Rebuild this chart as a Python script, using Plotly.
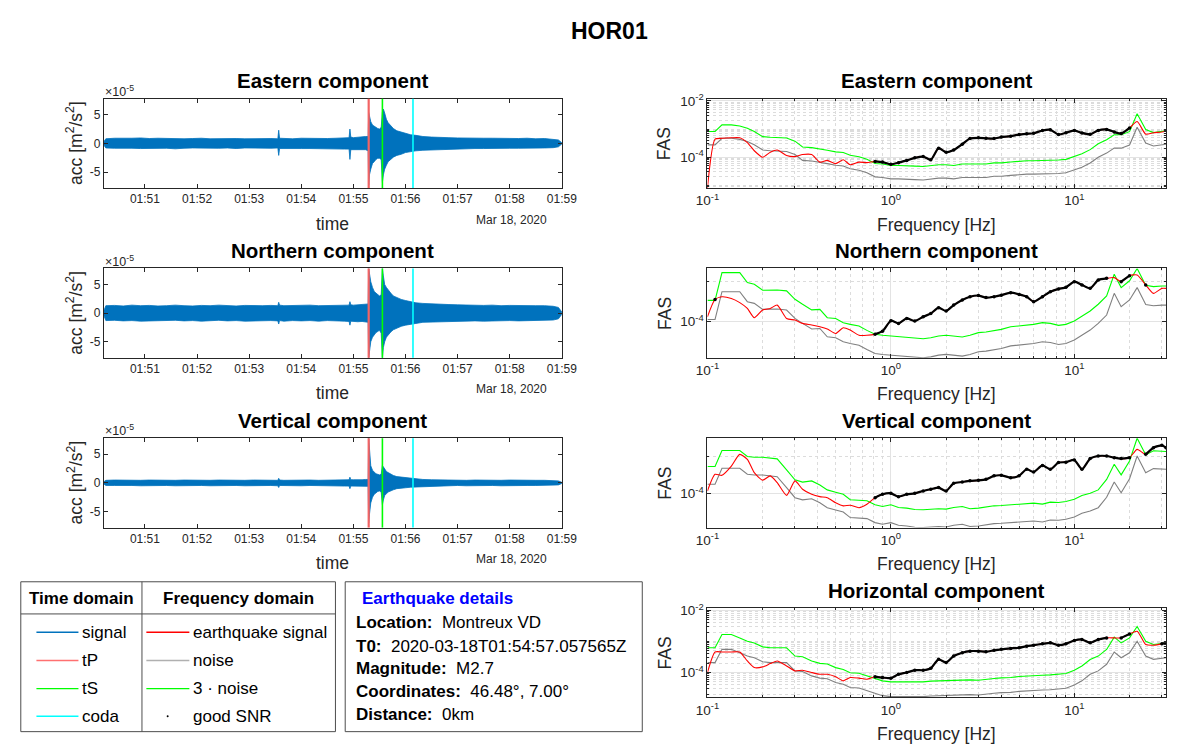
import math
import pandas as pd
import plotly.graph_objects as go

W, H = 1183, 746
FONT = "Liberation Sans, Arial, sans-serif"
INK = "#262626"

# ---------------- time-domain records (acc in 1e-5 m/s^2) ----------------
T0 = pd.Timestamp("2020-03-18 01:50:00")
wave_t = [12.7, 15, 25, 35, 45, 55, 65, 75, 85, 95,
          105, 115, 125, 135, 145, 155, 165, 175, 185, 195,
          205, 213, 214, 215, 220, 230, 240, 250, 260, 270,
          280, 290, 295, 296, 297, 300, 305, 310, 314, 317,
          317.6, 318.5, 320, 322, 324, 326, 328, 330, 332, 333.4,
          334.5, 336, 338, 340, 343, 346, 350, 355, 360, 366,
          372, 380, 390, 400, 410, 420, 430, 440, 450, 460,
          470, 480, 490, 500, 510, 520, 530, 536, 540]

east_hi = [0.3, 0.8, 0.9, 0.85, 0.9, 0.95, 0.85, 0.9, 0.85, 0.9,
           0.8, 0.85, 0.9, 0.8, 0.85, 0.8, 0.85, 0.8, 0.85, 0.8,
           0.85, 0.8, 2.3, 0.9, 0.85, 0.8, 0.9, 0.85, 0.9, 0.85,
           0.9, 1.0, 1.0, 2.5, 1.1, 1.0, 1.1, 1.1, 1.2, 1.2,
           5.4, 4.8, 3.8, 3.2, 3.0, 2.7, 2.6, 2.5, 2.8, 5.5,
           6.0, 5.3, 4.2, 3.6, 3.0, 2.6, 2.2, 2.0, 1.8, 1.5,
           1.4, 1.2, 1.1, 1.0, 1.0, 0.95, 0.9, 0.95, 0.9, 0.9,
           0.85, 0.9, 0.85, 0.9, 0.8, 0.85, 0.75, 0.6, 0.1]
east_lo = [-0.3, -0.8, -0.85, -0.9, -0.85, -0.9, -0.85, -0.9, -0.85, -0.95,
           -0.85, -0.8, -0.85, -0.8, -0.85, -0.8, -0.9, -0.8, -0.85, -0.8,
           -0.85, -0.8, -2.1, -0.9, -0.85, -0.85, -0.9, -0.9, -0.85, -0.9,
           -0.95, -1.0, -1.0, -2.8, -1.1, -1.1, -1.0, -1.1, -1.1, -1.3,
           -7.3, -5.5, -4.5, -3.5, -3.2, -2.8, -2.6, -2.6, -2.8, -6.8,
           -5.5, -4.5, -3.8, -3.2, -2.8, -2.4, -2.1, -1.9, -1.6, -1.4,
           -1.3, -1.2, -1.1, -1.0, -1.0, -0.95, -0.95, -0.9, -0.9, -0.85,
           -0.9, -0.85, -0.85, -0.85, -0.85, -0.8, -0.75, -0.6, -0.1]

north_hi = [0.4, 1.3, 1.35, 1.25, 1.4, 1.3, 1.35, 1.25, 1.3, 1.4,
            1.3, 1.25, 1.35, 1.3, 1.4, 1.3, 1.25, 1.35, 1.3, 1.3,
            1.35, 1.3, 1.9, 1.4, 1.3, 1.35, 1.3, 1.4, 1.3, 1.35,
            1.3, 1.4, 1.4, 2.0, 1.45, 1.4, 1.45, 1.5, 1.5, 1.6,
            7.8, 7.0, 5.5, 4.5, 3.8, 3.5, 3.2, 3.0, 3.2, 7.8,
            6.5, 5.0, 4.5, 4.0, 3.5, 3.0, 2.7, 2.4, 2.2, 2.0,
            1.8, 1.7, 1.6, 1.5, 1.5, 1.45, 1.4, 1.4, 1.35, 1.4,
            1.3, 1.35, 1.3, 1.35, 1.3, 1.3, 1.2, 1.0, 0.2]
north_lo = [-0.4, -1.3, -1.25, -1.35, -1.3, -1.4, -1.3, -1.35, -1.3, -1.25,
            -1.35, -1.3, -1.4, -1.3, -1.25, -1.35, -1.3, -1.4, -1.3, -1.35,
            -1.3, -1.35, -1.9, -1.3, -1.4, -1.3, -1.35, -1.3, -1.4, -1.3,
            -1.35, -1.4, -1.45, -2.1, -1.4, -1.45, -1.5, -1.45, -1.55, -1.6,
            -7.8, -6.5, -5.0, -4.2, -3.8, -3.4, -3.2, -3.0, -3.5, -7.8,
            -6.0, -5.0, -4.2, -3.8, -3.3, -2.9, -2.6, -2.3, -2.1, -1.9,
            -1.8, -1.6, -1.5, -1.5, -1.45, -1.4, -1.4, -1.35, -1.4, -1.3,
            -1.35, -1.3, -1.35, -1.3, -1.3, -1.25, -1.2, -1.0, -0.2]

vert_hi = [0.2, 0.45, 0.5, 0.45, 0.5, 0.45, 0.5, 0.45, 0.5, 0.45,
           0.5, 0.45, 0.5, 0.45, 0.5, 0.45, 0.5, 0.45, 0.5, 0.45,
           0.5, 0.45, 0.8, 0.5, 0.45, 0.5, 0.45, 0.5, 0.45, 0.5,
           0.5, 0.55, 0.55, 1.0, 0.55, 0.55, 0.5, 0.55, 0.6, 0.6,
           7.8, 5.0, 3.0, 2.2, 1.8, 1.6, 1.5, 1.4, 1.5, 3.0,
           2.8, 2.4, 2.0, 1.8, 1.5, 1.3, 1.1, 1.0, 0.9, 0.8,
           0.7, 0.6, 0.55, 0.5, 0.5, 0.5, 0.45, 0.5, 0.45, 0.5,
           0.45, 0.5, 0.45, 0.5, 0.45, 0.45, 0.4, 0.35, 0.1]
vert_lo = [-0.2, -0.45, -0.45, -0.5, -0.45, -0.5, -0.45, -0.5, -0.45, -0.5,
           -0.45, -0.5, -0.45, -0.5, -0.45, -0.5, -0.45, -0.5, -0.45, -0.5,
           -0.45, -0.5, -0.8, -0.45, -0.5, -0.45, -0.5, -0.45, -0.5, -0.45,
           -0.5, -0.55, -0.55, -1.0, -0.55, -0.5, -0.55, -0.55, -0.6, -0.6,
           -7.0, -5.5, -3.5, -2.5, -2.0, -1.7, -1.5, -1.4, -1.6, -3.8,
           -3.0, -2.2, -1.9, -1.6, -1.4, -1.2, -1.0, -0.9, -0.85, -0.75,
           -0.7, -0.6, -0.55, -0.5, -0.5, -0.45, -0.5, -0.45, -0.5, -0.45,
           -0.5, -0.45, -0.5, -0.45, -0.45, -0.45, -0.4, -0.35, -0.1]

# phase picks, seconds after 01:50:00
t_p, t_s, t_coda = 317.6, 333.4, 368.6

# ---------------- Fourier amplitude spectra ----------------
freq_hz = [0.1, 0.11, 0.12, 0.135, 0.15, 0.165, 0.18, 0.2, 0.22, 0.24,
           0.27, 0.3, 0.33, 0.37, 0.41, 0.45, 0.5, 0.55, 0.6, 0.67,
           0.74, 0.82, 0.9, 1.0, 1.1, 1.22, 1.35, 1.5, 1.65, 1.82,
           2.0, 2.2, 2.45, 2.7, 3.0, 3.3, 3.65, 4.0, 4.5, 5.0,
           5.5, 6.0, 6.7, 7.4, 8.2, 9.0, 10, 11, 12.2, 13.5,
           15, 16.5, 18, 20, 22, 24.5, 27, 30, 31.6]

east_signal = [8.0e-6, 4.4e-4, 4.7e-4, 4.9e-4, 4.9e-4, 3.3e-4, 1.7e-4, 1.0e-4, 1.5e-4, 1.8e-4,
               1.15e-4, 1.05e-4, 1.24e-4, 1.24e-4, 6.7e-5, 7.7e-5, 5.9e-5, 8.1e-5, 5.4e-5, 6.7e-5,
               6.4e-5, 7.1e-5, 6.7e-5, 5.6e-5, 6.4e-5, 7.7e-5, 9.5e-5, 1.05e-4, 8.1e-5, 2.1e-4,
               1.5e-4, 1.8e-4, 2.9e-4, 4.6e-4, 4.9e-4, 4.7e-4, 4.6e-4, 5.2e-4, 5.6e-4, 6.4e-4,
               6.8e-4, 7.1e-4, 8.9e-4, 9.4e-4, 6.4e-4, 7.4e-4, 9.0e-4, 7.3e-4, 6.5e-4, 9.0e-4,
               9.7e-4, 7.9e-4, 6.9e-4, 1.1e-3, 1.85e-3, 6.6e-4, 7.4e-4, 7.9e-4, 8.6e-4]
east_noise = [2.75e-4, 2.75e-4, 4.7e-4, 4.7e-4, 4.3e-4, 3.6e-4, 2.75e-4, 1.8e-4, 1.7e-4, 1.7e-4,
              1.6e-4, 1.24e-4, 7.7e-5, 7.3e-5, 6.7e-5, 5.9e-5, 5.15e-5, 4.9e-5, 3.9e-5, 3.45e-5,
              2.8e-5, 2.0e-5, 1.9e-5, 1.7e-5, 1.7e-5, 1.6e-5, 1.6e-5, 1.55e-5, 1.7e-5, 1.8e-5,
              1.8e-5, 1.7e-5, 1.9e-5, 1.9e-5, 2.0e-5, 1.9e-5, 2.1e-5, 2.1e-5, 2.25e-5, 2.4e-5,
              2.5e-5, 2.5e-5, 2.5e-5, 2.6e-5, 2.65e-5, 2.8e-5, 3.6e-5, 4.4e-5, 6.2e-5, 1.0e-4,
              1.4e-4, 2.1e-4, 2.1e-4, 2.7e-4, 1.17e-3, 3.2e-4, 2.5e-4, 2.7e-4, 2.9e-4]

north_signal = [1.33e-4, 3.6e-4, 4.2e-4, 3.8e-4, 3.0e-4, 2.15e-4, 1.26e-4, 1.96e-4, 2.15e-4, 2.6e-4,
                1.21e-4, 1.1e-4, 9.1e-5, 8.3e-5, 7.5e-5, 6.6e-5, 5.1e-5, 7.1e-5, 6.2e-5, 4.6e-5,
                4.6e-5, 4.9e-5, 5.8e-5, 1.06e-4, 9.1e-5, 1.21e-4, 1.04e-4, 1.33e-4, 1.6e-4, 2.24e-4,
                1.85e-4, 2.6e-4, 3.5e-4, 4.2e-4, 4.5e-4, 4.0e-4, 4.2e-4, 4.6e-4, 5.3e-4, 4.8e-4,
                4.2e-4, 3.16e-4, 4.2e-4, 5.6e-4, 6.6e-4, 7.2e-4, 1.0e-3, 8.3e-4, 6.8e-4, 1.1e-3,
                1.21e-3, 1.26e-3, 1.0e-3, 1.41e-3, 1.47e-3, 8.3e-4, 5.1e-4, 6.8e-4, 6.8e-4]
north_noise = [1.14e-4, 1.14e-4, 5.6e-4, 5.6e-4, 5.6e-4, 3.16e-4, 2.87e-4, 2.03e-4, 2.03e-4, 2.07e-4,
               1.96e-4, 1.21e-4, 9.1e-5, 6.6e-5, 6.8e-5, 4.2e-5, 4.0e-5, 3.16e-5, 2.87e-5, 2.6e-5,
               2.03e-5, 1.62e-5, 1.53e-5, 1.47e-5, 1.41e-5, 1.33e-5, 1.33e-5, 1.26e-5, 1.33e-5, 1.47e-5,
               1.53e-5, 1.47e-5, 1.39e-5, 1.53e-5, 1.78e-5, 1.85e-5, 1.96e-5, 2.15e-5, 2.5e-5, 2.6e-5,
               2.7e-5, 2.87e-5, 3.16e-5, 3.04e-5, 2.7e-5, 2.87e-5, 3.5e-5, 4.6e-5, 6.2e-5, 9.1e-5,
               1.47e-4, 5.1e-4, 2.37e-4, 3.5e-4, 7.1e-4, 2.7e-4, 2.5e-4, 2.6e-4, 2.6e-4]

vert_signal = [1.18e-4, 3.3e-4, 3.1e-4, 5.5e-4, 1.13e-3, 8.3e-4, 3.65e-4, 2.3e-4, 3.0e-4, 1.97e-4,
               9.0e-5, 2.2e-4, 1.31e-4, 9.6e-5, 8.3e-5, 7.8e-5, 5.7e-5, 4.7e-5, 4.9e-5, 4.2e-5,
               5.2e-5, 7.8e-5, 9.6e-5, 1.02e-4, 8.3e-5, 9.6e-5, 1.02e-4, 1.18e-4, 1.31e-4, 1.45e-4,
               1.18e-4, 1.89e-4, 2.05e-4, 2.2e-4, 2.27e-4, 2.42e-4, 3.0e-4, 3.1e-4, 2.68e-4, 3.0e-4,
               4.5e-4, 3.8e-4, 5.7e-4, 4.5e-4, 6.8e-4, 7.0e-4, 8.0e-4, 4.5e-4, 8.7e-4, 1.02e-3,
               1.02e-3, 9.2e-4, 8.7e-4, 9.2e-4, 1.54e-3, 1.13e-3, 1.71e-3, 1.97e-3, 1.71e-3]
vert_noise = [1.78e-4, 1.78e-4, 4.8e-4, 4.8e-4, 4.8e-4, 3.3e-4, 3.16e-4, 3.16e-4, 3.0e-4, 2.85e-4,
              1.45e-4, 7.8e-5, 6.8e-5, 7.3e-5, 5.7e-5, 4.2e-5, 3.65e-5, 3.2e-5, 2.28e-5, 2.23e-5,
              2.14e-5, 1.67e-5, 1.51e-5, 1.67e-5, 1.42e-5, 1.36e-5, 1.25e-5, 1.23e-5, 1.28e-5, 1.31e-5,
              1.28e-5, 1.42e-5, 1.51e-5, 1.31e-5, 1.36e-5, 1.48e-5, 1.57e-5, 1.6e-5, 1.67e-5, 1.74e-5,
              1.74e-5, 1.85e-5, 1.74e-5, 1.97e-5, 1.93e-5, 2.05e-5, 2.37e-5, 2.97e-5, 3.43e-5, 4.2e-5,
              8.0e-5, 2.05e-4, 1.06e-4, 2.5e-4, 1.02e-3, 3.65e-4, 4.7e-4, 4.5e-4, 4.5e-4]

horiz_signal = [1.0e-4, 4.6e-4, 4.6e-4, 4.6e-4, 4.6e-4, 2.36e-4, 1.45e-4, 1.52e-4, 1.94e-4, 2.36e-4,
                1.63e-4, 1.13e-4, 1.19e-4, 1.0e-4, 8.8e-5, 8.8e-5, 7.3e-5, 5.4e-5, 6.9e-5, 6.6e-5,
                6.1e-5, 7.3e-5, 6.9e-5, 6.6e-5, 8.8e-5, 1.0e-4, 1.19e-4, 1.19e-4, 1.37e-4, 2.66e-4,
                2.1e-4, 3.4e-4, 4.35e-4, 4.9e-4, 4.9e-4, 4.7e-4, 5.2e-4, 5.6e-4, 6.0e-4, 6.3e-4,
                7.1e-4, 7.6e-4, 8.4e-4, 9.1e-4, 7.6e-4, 8.4e-4, 1.08e-3, 1.16e-3, 9.1e-4, 1.16e-3,
                1.31e-3, 1.31e-3, 1.31e-3, 1.76e-3, 2.14e-3, 8.0e-4, 7.6e-4, 8.4e-4, 9.1e-4]
horiz_noise = [2.09e-4, 2.09e-4, 5.6e-4, 5.6e-4, 4.35e-4, 3.4e-4, 3.0e-4, 2.24e-4, 2.09e-4, 2.09e-4,
               2.09e-4, 1.13e-4, 1.08e-4, 7.8e-5, 6.6e-5, 6.3e-5, 4.8e-5, 4.2e-5, 3.3e-5, 3.16e-5,
               2.6e-5, 2.14e-5, 1.8e-5, 1.67e-5, 1.67e-5, 1.59e-5, 1.59e-5, 1.67e-5, 1.76e-5, 1.8e-5,
               1.76e-5, 1.8e-5, 1.85e-5, 1.94e-5, 1.89e-5, 2.04e-5, 2.14e-5, 2.25e-5, 2.3e-5, 2.48e-5,
               2.6e-5, 2.6e-5, 2.73e-5, 2.8e-5, 2.87e-5, 3.1e-5, 3.95e-5, 5.4e-5, 8.8e-5, 1.13e-4,
               1.85e-4, 4.6e-4, 3.0e-4, 4.35e-4, 1.02e-3, 3.4e-4, 2.66e-4, 2.8e-4, 3.0e-4]

NOISE_FACTOR = 3

# ---------------- layout geometry (pixels) ----------------
ROWS = [(91.7, 182.0), (263.3, 353.6), (434.9, 525.2), (606.5, 696.8)]
LEFT_X = (94.0, 562.7)
RIGHT_X = (711.7, 1181.0)

BLUE = "#0072BD"
C_TP, C_TS, C_CODA = "#F26464", "#00FF00", "#00FFFF"
C_SIG, C_NOISE, C_3N = "#FF0000", "#808080", "#00FF00"


def xp(px):
    return px / W


def yp(py):
    return 1 - py / H


def ax_id(k):
    return "" if k == 1 else str(k)


fig = go.Figure()
layout = {}
annotations = []
shapes = []

tick_font = dict(family=FONT, size=12, color=INK)
log_tick_font = dict(family=FONT, size=13.5, color=INK)
base_axis = dict(showline=True, linecolor=INK, linewidth=1, mirror="ticks",
                 ticks="inside", ticklen=4, tickcolor=INK, tickwidth=1,
                 tickfont=tick_font, zeroline=False, showgrid=False, fixedrange=True)


def title_at(text, cx, top):
    annotations.append(dict(text=f"<b>{text}</b>", x=xp(cx), y=yp(top - 18), xref="paper", yref="paper",
                            showarrow=False, xanchor="center", yanchor="middle",
                            font=dict(family=FONT, size=20.5, color="black")))


def label_at(text, cx, cy, angle=0, size=17.5):
    annotations.append(dict(text=text, x=xp(cx), y=yp(cy), xref="paper", yref="paper",
                            showarrow=False, xanchor="center", yanchor="middle", textangle=angle,
                            font=dict(family=FONT, size=size, color=INK)))


# ---------------- time-domain panels ----------------
waves = [("Eastern component", east_hi, east_lo),
         ("Northern component", north_hi, north_lo),
         ("Vertical component", vert_hi, vert_lo)]
times = [T0 + pd.Timedelta(seconds=s) for s in wave_t]
minute_ticks = [T0 + pd.Timedelta(minutes=m) for m in range(1, 10)]
x_start = T0 + pd.Timedelta(seconds=12.7)
x_end = T0 + pd.Timedelta(minutes=9)

for i, (name, hi, lo) in enumerate(waves):
    k = i + 1
    top, bot = ROWS[i]
    fig.add_trace(go.Scatter(x=times + times[::-1], y=hi + lo[::-1], mode="lines",
                             fill="toself", fillcolor=BLUE, line=dict(color=BLUE, width=0.8),
                             xaxis="x" + ax_id(k), yaxis="y" + ax_id(k),
                             hoverinfo="skip", showlegend=False))
    layout["xaxis" + ax_id(k)] = dict(base_axis, domain=[xp(LEFT_X[0]), xp(LEFT_X[1])],
                                      anchor="y" + ax_id(k), type="date",
                                      range=[x_start, x_end], tickvals=minute_ticks,
                                      tickformat="%H:%M")
    layout["yaxis" + ax_id(k)] = dict(base_axis, domain=[yp(bot), yp(top)], anchor="x" + ax_id(k),
                                      range=[-7.8, 7.8], tickvals=[-5, 0, 5],
                                      ticktext=["-5", "0", "5"])
    for t_mark, col, wdt in ((t_p, C_TP, 2.2), (t_s, C_TS, 1.6), (t_coda, C_CODA, 1.6)):
        tm = T0 + pd.Timedelta(seconds=t_mark)
        shapes.append(dict(type="line", xref="x" + ax_id(k), yref="y" + ax_id(k) + " domain",
                           x0=tm, x1=tm, y0=0, y1=1, line=dict(color=col, width=wdt)))
    cx = (LEFT_X[0] + LEFT_X[1]) / 2
    title_at(name, cx, top)
    label_at("time", cx, bot + 36)
    label_at("acc [m<sup>2</sup>/s<sup>2</sup>]", 64, (top + bot) / 2, angle=-90)
    annotations.append(dict(text="\u00d710<sup>-5</sup>", x=xp(LEFT_X[0] - 1), y=yp(top - 8),
                            xref="paper", yref="paper", showarrow=False, xanchor="left",
                            yanchor="middle", font=dict(family=FONT, size=12.5, color=INK)))
    annotations.append(dict(text="Mar 18, 2020", x=xp(550), y=yp(bot + 32), xref="paper",
                            yref="paper", showarrow=False, xanchor="right", yanchor="middle",
                            font=dict(family=FONT, size=12, color=INK)))

# ---------------- spectral panels ----------------
spectra = [("Eastern component", east_signal, east_noise, False),
           ("Northern component", north_signal, north_noise, True),
           ("Vertical component", vert_signal, vert_noise, True),
           ("Horizontal component", horiz_signal, horiz_noise, False)]

x_minor = dict(dtick="D1", showgrid=True, gridcolor="#dcdcdc", griddash="dot", gridwidth=1,
               ticks="inside", ticklen=2, tickcolor=INK)
y_minor_dense = dict(dtick="D1", showgrid=True, gridcolor="#dcdcdc", griddash="dot", gridwidth=1,
                     ticks="inside", ticklen=2, tickcolor=INK)
y_minor_sparse = dict(tickmode="array", tickvals=[1e-5, 1e-3], showgrid=True, gridcolor="#dcdcdc",
                      griddash="dot", gridwidth=1, ticks="inside", ticklen=2, tickcolor=INK)

for i, (name, sig, noise, tight) in enumerate(spectra):
    k = i + 4
    top, bot = ROWS[i]
    xa, ya = "x" + ax_id(k), "y" + ax_id(k)
    noise3 = [NOISE_FACTOR * v for v in noise]
    good = [s if s > n3 else None for s, n3 in zip(sig, noise3)]
    allv = sig + noise + noise3
    lo_v = math.log10(min(allv))
    hi_v = math.log10(max(allv)) if tight else -1.92
    for yv, col, shp in ((noise, C_NOISE, "linear"), (noise3, C_3N, "linear"), (sig, C_SIG, "spline")):
        fig.add_trace(go.Scatter(x=freq_hz, y=yv, mode="lines",
                                 line=dict(color=col, width=1.1, shape=shp, smoothing=0.6),
                                 xaxis=xa, yaxis=ya, hoverinfo="skip", showlegend=False))
    fig.add_trace(go.Scatter(x=freq_hz, y=good, mode="lines+markers",
                             line=dict(color="black", width=2.2, shape="spline", smoothing=0.6),
                             marker=dict(color="black", size=3.5),
                             xaxis=xa, yaxis=ya, hoverinfo="skip", showlegend=False))
    layout["xaxis" + ax_id(k)] = dict(base_axis, domain=[xp(RIGHT_X[0]), xp(RIGHT_X[1])],
                                      anchor=ya, type="log", range=[-1, 1.5],
                                      tickmode="array", tickvals=[0.1, 1, 10],
                                      ticktext=["10<sup>-1</sup>", "10<sup>0</sup>", "10<sup>1</sup>"],
                                      tickfont=log_tick_font,
                                      showgrid=True, gridcolor="#e3e3e3", minor=x_minor)
    layout["yaxis" + ax_id(k)] = dict(base_axis, domain=[yp(bot), yp(top)], anchor=xa,
                                      type="log", range=[lo_v, hi_v],
                                      tickmode="array", tickvals=[1e-4, 1e-2],
                                      ticktext=["10<sup>-4</sup>", "10<sup>-2</sup>"],
                                      tickfont=log_tick_font,
                                      showgrid=True, gridcolor="#e3e3e3",
                                      minor=y_minor_sparse if tight else y_minor_dense)
    cx = (RIGHT_X[0] + RIGHT_X[1]) / 2
    title_at(name, cx, top)
    label_at("Frequency [Hz]", cx, bot + 37)
    label_at("FAS", 668, (top + bot) / 2, angle=-90)

# ---------------- legend table ----------------
BOX = dict(color="#4d4d4d", width=1)
shapes.append(dict(type="rect", xref="paper", yref="paper", x0=xp(9), x1=xp(331),
                   y0=yp(731.5), y1=yp(580), line=BOX))
shapes.append(dict(type="line", xref="paper", yref="paper", x0=xp(9), x1=xp(331),
                   y0=yp(612.5), y1=yp(612.5), line=BOX))
shapes.append(dict(type="line", xref="paper", yref="paper", x0=xp(133), x1=xp(133),
                   y0=yp(580), y1=yp(731.5), line=BOX))


def text_at(text, x, y, size=17, color="black", anchor="left"):
    annotations.append(dict(text=text, x=xp(x), y=yp(y), xref="paper", yref="paper",
                            showarrow=False, xanchor=anchor, yanchor="middle", borderpad=0,
                            font=dict(family=FONT, size=size, color=color)))


text_at("<b>Time domain</b>", 71, 597, anchor="center")
text_at("<b>Frequency domain</b>", 232, 597, anchor="center")

row_y = [631, 659.5, 688, 716]
time_items = [("signal", BLUE), ("tP", "#FF7070"), ("tS", "#00FF00"), ("coda", "#00FFFF")]
freq_items = [("earthquake signal", "#FF0000"), ("noise", "#B0B0B0"), ("3 \u00b7 noise", "#00FF00"),
              ("good SNR", None)]
for y, (lab, col) in zip(row_y, time_items):
    shapes.append(dict(type="line", xref="paper", yref="paper", x0=xp(25), x1=xp(68),
                       y0=yp(y), y1=yp(y), line=dict(color=col, width=1.4)))
    text_at(lab, 71, y)
for y, (lab, col) in zip(row_y, freq_items):
    if col is None:
        shapes.append(dict(type="circle", xref="paper", yref="paper", x0=xp(158.3), x1=xp(160.3),
                           y0=yp(y + 1), y1=yp(y - 1), fillcolor="black", line=dict(width=0)))
    else:
        shapes.append(dict(type="line", xref="paper", yref="paper", x0=xp(137.5), x1=xp(181.5),
                           y0=yp(y), y1=yp(y), line=dict(color=col, width=1.4)))
    text_at(lab, 184, y)

# ---------------- event details ----------------
shapes.append(dict(type="rect", xref="paper", yref="paper", x0=xp(341), x1=xp(645),
                   y0=yp(731.5), y1=yp(580), line=BOX))
text_at("<b>Earthquake details</b>", 357, 597, color="#0000FF")
details = [("Location:", "Montreux VD"),
           ("T0:", "2020-03-18T01:54:57.057565Z"),
           ("Magnitude:", "M2.7"),
           ("Coordinates:", "46.48\u00b0, 7.00\u00b0"),
           ("Distance:", "0km")]
for y, (k_, v_) in zip([621, 645, 668, 691, 714.5], details):
    text_at(f"<b>{k_}</b>  {v_}", 351, y)

annotations.append(dict(text="<b>HOR01</b>", x=xp(611), y=yp(23), xref="paper", yref="paper",
                        showarrow=False, xanchor="center", yanchor="middle",
                        font=dict(family=FONT, size=23, color="black")))

fig.update_layout(width=W, height=H, autosize=False,
                  margin=dict(l=0, r=0, t=0, b=0),
                  paper_bgcolor="white", plot_bgcolor="white",
                  font=dict(family=FONT, color=INK),
                  showlegend=False, annotations=annotations, shapes=shapes, **layout)

fig.write_html("out.html", config={"displayModeBar": False})
